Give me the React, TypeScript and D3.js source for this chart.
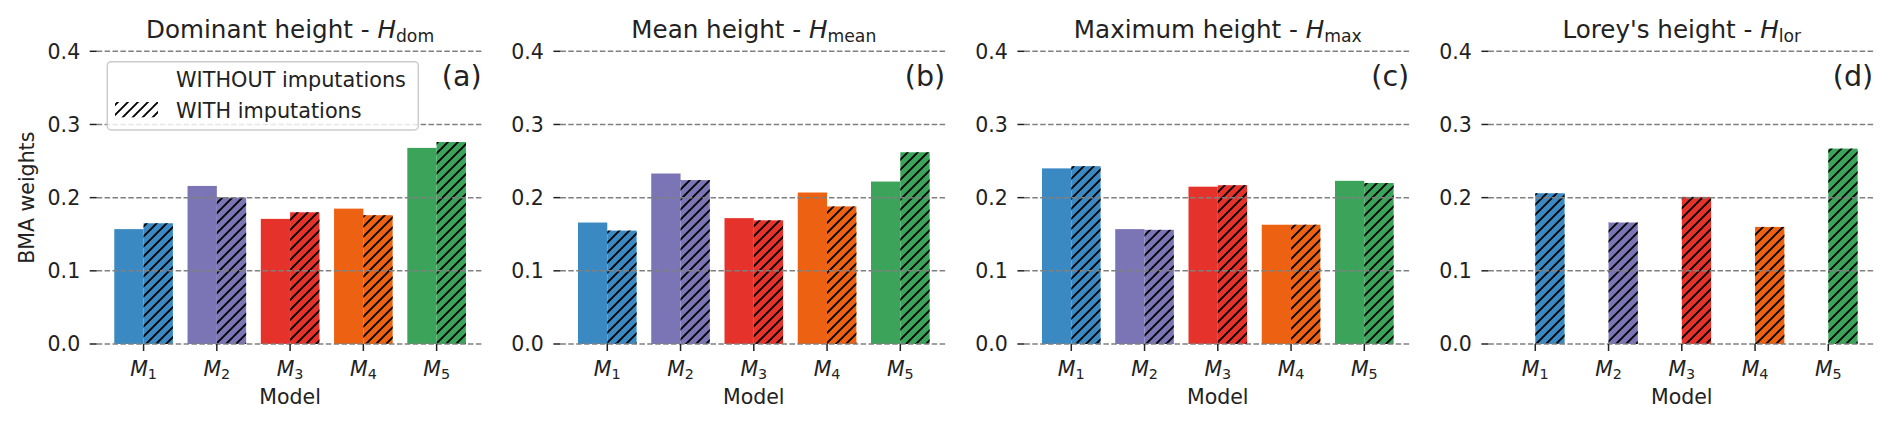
import React from "react";
import * as d3 from "d3";

// ---- data ----
const models = ["1", "2", "3", "4", "5"];
const modelColors = ["#3a89c3", "#7b74b5", "#e5322b", "#ec6212", "#3ba45a"];

const panelPrefixes = ["Dominant height - ", "Mean height - ", "Maximum height - ", "Lorey's height - "];
const panelSubs = ["dom", "mean", "max", "lor"];
const panelLetters = ["(a)", "(b)", "(c)", "(d)"];

const domWithout = [0.157, 0.216, 0.171, 0.185, 0.268];
const domWith = [0.165, 0.2, 0.18, 0.176, 0.276];
const meanWithout = [0.166, 0.233, 0.172, 0.207, 0.222];
const meanWith = [0.155, 0.224, 0.169, 0.188, 0.262];
const maxWithout = [0.24, 0.157, 0.215, 0.163, 0.223];
const maxWith = [0.243, 0.156, 0.217, 0.163, 0.22];
const lorWithout: number[] | null = null;
const lorWith = [0.206, 0.166, 0.201, 0.16, 0.267];

const yTicks = [0, 0.1, 0.2, 0.3, 0.4];
const yTickLabels = ["0.0", "0.1", "0.2", "0.3", "0.4"];

const legendLabels = ["WITHOUT imputations", "WITH imputations"];
const yLabel = "BMA weights";
const xLabel = "Model";

const seriesWithout = [domWithout, meanWithout, maxWithout, lorWithout];
const seriesWith = [domWith, meanWith, maxWith, lorWith];

// ---- layout ----
const W = 1892;
const H = 424;
const panelLefts = [96.7, 560.4, 1024.4, 1488.4];
const panelW = 386.8;
const yTop = 51.3;
const yBottom = 344;
const FONT = "DejaVu Sans, sans-serif";
const BASE = 20.5;
const TITLE = 24.6;

function Panel({ idx }: { idx: number }) {
  const left = panelLefts[idx];
  const x = d3.scaleLinear().domain([-0.64, 4.64]).range([left, left + panelW]);
  const y = d3.scaleLinear().domain([0, 0.4]).range([yBottom, yTop]);
  const bw = x(0.4) - x(0);
  const without = seriesWithout[idx];
  const withv = seriesWith[idx];
  const cx = left + panelW / 2;
  return (
    <g>
      {/* bars */}
      {models.map((m, i) => (
        <g key={m}>
          {without && (
            <rect x={x(i - 0.4)} y={y(without[i])} width={bw} height={y(0) - y(without[i])} fill={modelColors[i]} />
          )}
          <rect x={x(i)} y={y(withv[i])} width={bw} height={y(0) - y(withv[i])} fill={modelColors[i]} />
          <rect x={x(i)} y={y(withv[i])} width={bw} height={y(0) - y(withv[i])} fill="url(#hatch)" />
        </g>
      ))}
      {/* grid */}
      {yTicks.map((t) => (
        <line key={t} x1={left} x2={left + panelW} y1={y(t)} y2={y(t)} stroke="#808080" strokeWidth={1.5} strokeDasharray="5.5 2.4" />
      ))}
      {/* y ticks */}
      {yTicks.map((t, k) => (
        <g key={"yt" + t}>
          <line x1={left - 7} x2={left} y1={y(t)} y2={y(t)} stroke="#222" strokeWidth={1.5} />
          <text x={left - 16.5} y={y(t)} dy="0.36em" textAnchor="end" fontSize={BASE} fontFamily={FONT} fill="#222">
            {yTickLabels[k]}
          </text>
        </g>
      ))}
      {/* x ticks */}
      {models.map((m, i) => (
        <g key={"xt" + m}>
          <line x1={x(i)} x2={x(i)} y1={yBottom} y2={yBottom + 7} stroke="#222" strokeWidth={1.5} />
          <text x={x(i)} y={376} textAnchor="middle" fontSize={BASE} fontFamily={FONT} fill="#222">
            <tspan fontStyle="italic">M</tspan>
            <tspan fontSize={BASE * 0.7} dy={3}>{m}</tspan>
          </text>
        </g>
      ))}
      <text x={cx} y={404} textAnchor="middle" fontSize={BASE} fontFamily={FONT} fill="#222">
        {xLabel}
      </text>
      {/* title */}
      <text x={cx} y={37.5} textAnchor="middle" fontSize={TITLE} fontFamily={FONT} fill="#222">
        {panelPrefixes[idx]}
        <tspan fontStyle="italic">H</tspan>
        <tspan fontSize={TITLE * 0.7} dy={4.3}>{panelSubs[idx]}</tspan>
      </text>
      <text x={left + panelW - 2} y={86} textAnchor="end" fontSize={28.5} fontFamily={FONT} fill="#222">
        {panelLetters[idx]}
      </text>
    </g>
  );
}

export default function App() {
  return (
    <div style={{ position: "absolute", left: 0, top: 0 }}>
      <svg width={W} height={H} viewBox={`0 0 ${W} ${H}`} style={{ display: "block", background: "#fff" }}>
        <defs>
          <pattern id="hatch" patternUnits="userSpaceOnUse" width={10} height={10}>
            <path d="M-1,1 L1,-1 M0,10 L10,0 M9,11 L11,9" stroke="#000" strokeWidth={1.9} />
          </pattern>
        </defs>
        <rect x={0} y={0} width={W} height={H} fill="#fff" />
        {panelLefts.map((_, i) => (
          <Panel key={i} idx={i} />
        ))}
        <text
          transform={`translate(34,197.7) rotate(-90)`}
          textAnchor="middle"
          fontSize={BASE}
          fontFamily={FONT}
          fill="#222"
        >
          {yLabel}
        </text>
        {/* legend */}
        <g>
          <rect x={107.3} y={61.7} width={311} height={68.3} rx={4} fill="#fff" fillOpacity={0.8} stroke="#cccccc" strokeWidth={1.5} />
          <text x={176} y={86.7} fontSize={20.8} fontFamily={FONT} fill="#222">
            {legendLabels[0]}
          </text>
          <rect x={115} y={102} width={43} height={15.3} fill="url(#hatch)" />
          <text x={176} y={117.7} fontSize={20.8} fontFamily={FONT} fill="#222">
            {legendLabels[1]}
          </text>
        </g>
      </svg>
    </div>
  );
}
